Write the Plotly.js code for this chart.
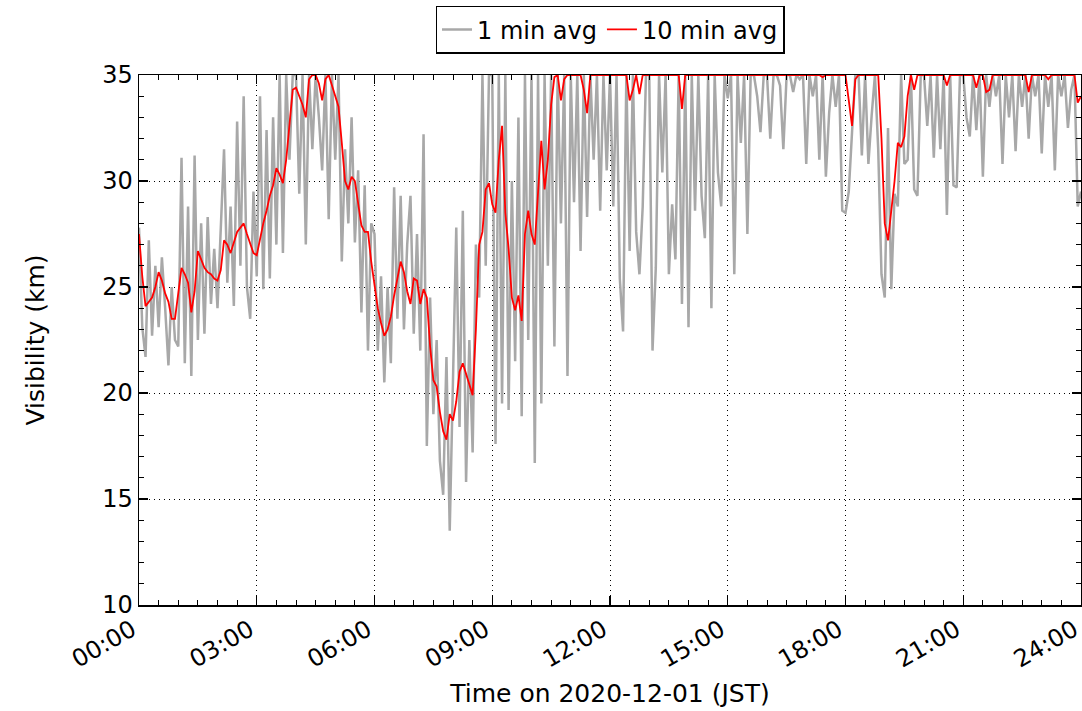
<!DOCTYPE html>
<html>
<head>
<meta charset="utf-8">
<script src="https://cdn.plot.ly/plotly-3.0.1.min.js"></script>
<style>html,body{margin:0;padding:0;background:#fff;}#chart{width:1082px;height:711px;}</style>
</head>
<body>
<div id="chart"></div>
<script>
const STEP_MIN = 5;

// 10 min average visibility (km), every 5 min from 00:00 to 24:00
const RED_10MIN = [
27.5,25.5,24.1,24.3,24.5,25.0,25.7,25.3,24.7,24.3,23.5,23.5,
24.6,25.9,25.6,25.2,23.8,24.8,26.7,26.3,25.9,25.7,25.6,25.4,
25.3,25.8,27.2,27.0,26.6,27.1,27.6,27.8,28.0,27.5,27.0,26.6,
26.5,27.3,28.0,28.6,29.3,29.8,30.6,30.3,29.9,31.0,32.5,34.3,
34.4,34.0,33.6,33.0,34.8,35,35,34.6,33.8,34.8,35,34.5,
34.0,33.5,31.8,30.0,29.6,30.2,30.0,29.0,27.9,27.6,27.6,26.2,
25.0,24.0,23.3,22.7,23.0,23.6,24.6,25.5,26.2,25.7,24.8,24.2,
25.4,25.3,24.2,24.9,24.5,22.2,20.6,20.3,19.1,18.2,17.8,19.0,
18.7,19.6,21.0,21.4,20.9,20.3,19.9,23.0,27.0,27.6,29.6,29.9,
28.9,28.5,31.0,32.6,28.5,26.8,24.5,23.9,24.6,23.4,27.5,28.6,
27.5,27.0,29.5,31.9,29.6,31.0,33.6,34.9,35,33.8,34.8,35,
35,35,35,35,34.3,33.2,35,35,35,35,35,35,
35,35,35,35,35,35,33.8,34.3,35,34.1,35,35,
35,35,35,35,35,35,35,35,35,35,33.4,35,
35,35,35,35,35,35,35,35,35,35,35,35,
35,35,35,35,35,35,35,35,35,35,35,35,
35,35,35,35,35,35,35,35,35,35,35,35,
35,35,35,35,35,34.9,35,35,35,35,35,35,
35,33.8,32.6,34.8,35,35,35,35,35,35,35,32.0,
28.0,27.2,28.5,30.0,31.8,31.6,32.1,34.0,35,34.3,35,35,
35,35,35,35,35,35,35,34.5,35,35,35,35,
35,35,35,35,34.4,35,35,34.2,34.3,35,35,35,
35,35,35,35,35,35,35,35,34.2,35,35,35,
35,35,34.8,35,35,35,35,35,35,35,35,33.7,
34.0
];

// 1 min average visibility (km), digitised every 5 min from 00:00 to 24:00
const GREY_1MIN = [
27.8,23.1,21.7,27.2,22.7,26.0,23.1,26.4,24.0,21.3,25.0,22.5,
22.2,31.1,21.4,28.8,20.8,31.2,22.5,28.0,22.8,28.3,24.2,26.8,
24.0,27.5,31.5,25.2,28.8,24.1,32.8,26.0,34.0,25.0,23.5,29.5,
25.5,34.0,24.9,32.4,25.4,33.0,27.0,35,26.6,35,31.0,35,
35,29.4,35,27.0,35,31.5,35,33.0,30.5,35,28.2,35,
31.0,35,26.2,31.5,28.0,33.0,27.1,30.5,23.8,29.8,22.0,28.0,
27.5,22.0,25.5,20.5,25.0,21.4,29.7,23.5,29.3,23.0,27.0,29.3,
22.8,27.5,22.0,32.2,17.5,24.5,19.0,22.5,16.8,15.2,21.7,13.5,
21.0,27.8,18.4,28.6,15.8,22.5,17.2,27.0,24.5,35,26.0,35,
35,17.6,35,19.5,35,19.2,30.0,21.5,33.0,18.9,35,22.5,
35,16.7,35,19.5,35,26.0,35,22.2,35,28.0,35,20.8,
35,29.0,35,26.7,35,28.3,35,31.0,35,28.6,35,30.5,
35,28.8,35,25.4,22.9,35,26.7,35,27.6,25.6,28.8,35,
35,22.0,25.9,35,30.4,35,25.6,28.9,26.3,35,24.2,35,
23.1,35,28.6,35,29.3,27.3,35,24.0,35,30.4,28.8,35,
33.9,35,25.6,35,31.8,35,27.5,35,35,34.0,32.3,35,
35,32.0,35,35,34.5,31.5,35,35,34.2,35,34.8,35,
30.8,35,34.0,35,31.0,35,30.2,33.2,35,33.5,35,28.6,
28.5,29.5,32.3,35,35,31.2,35,30.8,33.1,35,31.5,25.6,
24.5,32.5,24.9,29.4,28.8,35,30.8,31.0,35,29.6,29.3,35,
35,32.6,35,31.1,35,31.5,35,28.4,35,29.8,29.7,35,
35,33.0,32.1,35,32.4,35,30.2,35,33.5,35,34.0,35,
30.8,35,33.0,35,31.4,35,33.5,35,32.0,35,34.0,35,
31.3,35,33.5,35,30.5,35,34.0,35,32.5,34.3,35,28.8,
29.5
];

// Tick positions (hours) and labels
const TICK_HOURS = [0,3,6,9,12,15,18,21,24];
const TICK_LABELS = ["00:00","03:00","06:00","09:00","12:00","15:00","18:00","21:00","24:00"];
const Y_TICKS = [10,15,20,25,30,35];

const hours = GREY_1MIN.map((_, i) => i * STEP_MIN / 60);

const FONT = "DejaVu Sans, sans-serif";

const traces = [
  {
    x: hours, y: GREY_1MIN, type: "scatter", mode: "lines",
    name: "1 min avg",
    line: {color: "#a8a8a8", width: 2.5},
    hoverinfo: "skip"
  },
  {
    x: hours, y: RED_10MIN, type: "scatter", mode: "lines",
    name: "10 min avg",
    line: {color: "#ff0000", width: 1.8},
    hoverinfo: "skip"
  }
];

const axisCommon = {
  showline: true, linecolor: "#000", linewidth: 1.5, mirror: "allticks",
  ticks: "inside", ticklen: 9, tickwidth: 1.2, tickcolor: "#000",
  showgrid: true, gridcolor: "#000", gridwidth: 1, griddash: "1px,4px",
  zeroline: false, ticklabeloverflow: "allow",
  tickfont: {family: FONT, size: 24, color: "#000"}
};

const layout = {
  width: 1082, height: 711,
  paper_bgcolor: "#fff", plot_bgcolor: "#fff",
  margin: {l: 139, r: 1, t: 75, b: 106},
  font: {family: FONT, color: "#000"},
  showlegend: true,
  legend: {
    orientation: "h", x: 0.5, xanchor: "center", y: 1.04, yanchor: "bottom",
    bordercolor: "#000", borderwidth: 1.5, bgcolor: "#fff",
    font: {family: FONT, size: 24, color: "#000"},
    itemwidth: 30, tracegroupgap: 0
  },
  xaxis: Object.assign({}, axisCommon, {
    range: [0, 24],
    tickmode: "array", tickvals: TICK_HOURS, ticktext: TICK_LABELS,
    tickangle: -30, ticklabelshift: -7,
    minor: {dtick: 0.5, ticks: "inside", ticklen: 5, tickwidth: 1, tickcolor: "#000", showgrid: false},
    title: {text: "Time on 2020-12-01 (JST)", font: {family: FONT, size: 25, color: "#000"}, standoff: 12}
  }),
  yaxis: Object.assign({}, axisCommon, {
    range: [10, 35],
    tickmode: "array", tickvals: Y_TICKS, ticktext: Y_TICKS.map(String),
    ticklabelstandoff: 0,
    minor: {dtick: 1, ticks: "inside", ticklen: 5, tickwidth: 1, tickcolor: "#000", showgrid: false},
    title: {text: "Visibility (km)", font: {family: FONT, size: 25, color: "#000"}, standoff: 50}
  })
};

Plotly.newPlot("chart", traces, layout, {displayModeBar: false, staticPlot: true});
</script>
</body>
</html>
